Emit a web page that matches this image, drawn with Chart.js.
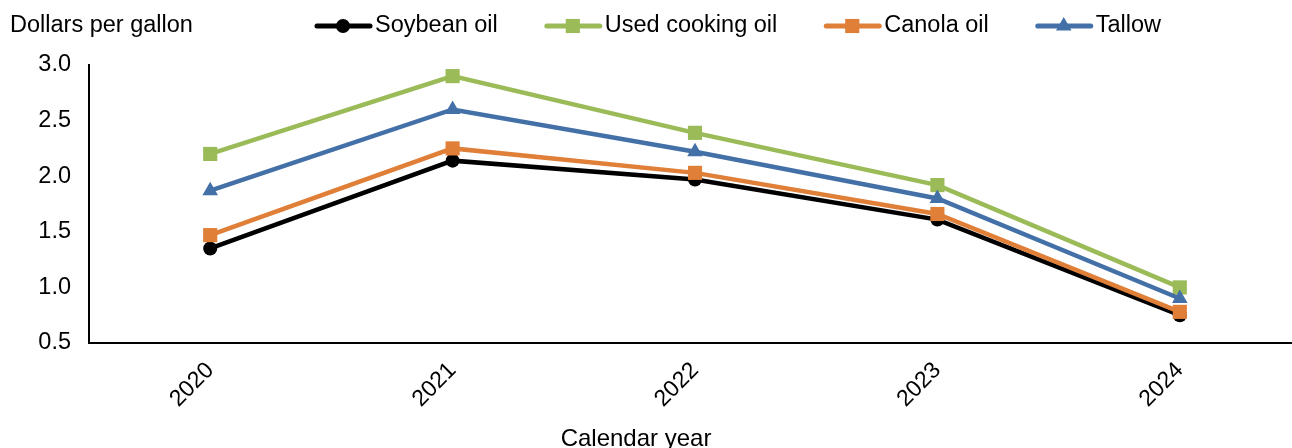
<!DOCTYPE html>
<html>
<head>
<meta charset="utf-8">
<script src="https://cdn.jsdelivr.net/npm/chart.js@4/dist/chart.umd.min.js"></script>
<style>
  html, body { margin: 0; padding: 0; background: #fff; overflow: hidden; }
  #wrap { width: 1311px; height: 448px; }
</style>
</head>
<body>
<div id="wrap"><canvas id="c" width="1311" height="448"></canvas></div>
<script>
// Feedstock prices by calendar year, dollars per gallon
const years = ['2020', '2021', '2022', '2023', '2024'];
const soybeanOil = [1.35, 2.14, 1.97, 1.61, 0.75];
const usedCookingOil = [2.20, 2.90, 2.39, 1.92, 1.00];
const canolaOil = [1.47, 2.25, 2.03, 1.66, 0.78];
const tallow = [1.87, 2.60, 2.22, 1.80, 0.90];
const yTicks = [0.5, 1.0, 1.5, 2.0, 2.5, 3.0];

const FONT = 'Liberation Sans, Arial, sans-serif';

function series(label, data, color, style, radius, order) {
  return {
    label, data, order,
    borderColor: color, backgroundColor: color,
    pointBackgroundColor: color, pointBorderColor: color,
    borderWidth: 4.5, pointStyle: style, pointRadius: radius,
    pointBorderWidth: 0, pointHoverRadius: radius, tension: 0
  };
}

// Unit label, line-plus-marker legend along the top, and the x-axis caption
const chartText = {
  id: 'chartText',
  afterDraw(chart) {
    const ctx = chart.ctx;
    ctx.save();
    ctx.fillStyle = '#000';
    ctx.font = '23.5px ' + FONT;
    ctx.textBaseline = 'middle';
    ctx.textAlign = 'left';
    ctx.fillText('Dollars per gallon', 10, 26);

    let x = 315;
    const y = 26;
    chart.data.datasets.forEach(ds => {
      ctx.strokeStyle = ds.borderColor;
      ctx.lineWidth = 5;
      ctx.lineCap = 'round';
      ctx.beginPath();
      ctx.moveTo(x + 2, y);
      ctx.lineTo(x + 55, y);
      ctx.stroke();
      ctx.fillStyle = ds.pointBackgroundColor;
      Chart.helpers.drawPoint(ctx, {
        pointStyle: ds.pointStyle, rotation: 0,
        radius: ds.pointRadius, borderWidth: 0
      }, x + 28, y);
      ctx.fillStyle = '#000';
      ctx.fillText(ds.label, x + 60, y);
      x += 60 + ctx.measureText(ds.label).width + 47;
    });

    ctx.font = '24px ' + FONT;
    ctx.textAlign = 'center';
    ctx.textBaseline = 'alphabetic';
    ctx.fillText('Calendar year', 636, 446);
    ctx.restore();
  }
};

new Chart(document.getElementById('c'), {
  type: 'line',
  data: {
    labels: years,
    datasets: [
      series('Soybean oil', soybeanOil, '#000000', 'circle', 7, 4),
      series('Used cooking oil', usedCookingOil, '#9BBB59', 'rect', 10, 3),
      series('Canola oil', canolaOil, '#DF7F38', 'rect', 10, 2),
      series('Tallow', tallow, '#4470A8', 'triangle', 9, 1)
    ]
  },
  options: {
    responsive: false,
    animation: false,
    layout: { padding: { top: 65, left: 0, right: 0, bottom: 0 } },
    plugins: { legend: { display: false }, tooltip: { enabled: false } },
    scales: {
      x: {
        offset: true,
        grid: { display: false, drawTicks: false },
        border: { display: true, color: '#000', width: 2 },
        ticks: {
          color: '#000', font: { family: FONT, size: 23 },
          minRotation: 45, maxRotation: 45, padding: 14
        },
        afterFit(scale) { scale.height = 105; }
      },
      y: {
        min: 0.5, max: 3.0,
        grid: { display: false, drawTicks: false },
        border: { display: true, color: '#000', width: 2 },
        afterBuildTicks(scale) { scale.ticks = yTicks.map(v => ({ value: v })); },
        ticks: {
          color: '#000', font: { family: FONT, size: 23.5 }, padding: 18,
          callback: v => Number(v).toFixed(1)
        },
        afterFit(scale) { scale.width = 89; }
      }
    }
  },
  plugins: [chartText]
});
</script>
</body>
</html>
